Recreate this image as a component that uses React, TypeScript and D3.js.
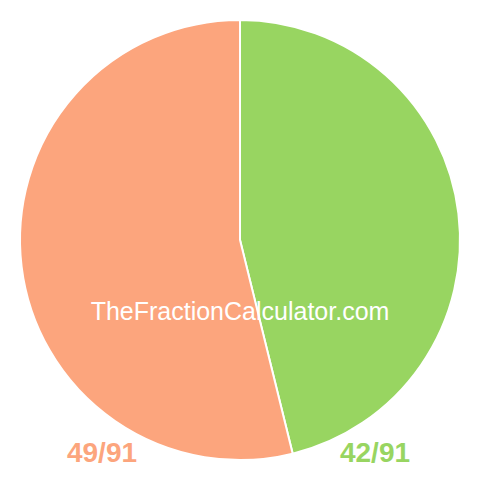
import { useEffect, useRef } from "react";
import * as d3 from "d3";

// slice values (numerators of x/91)
const labels = ["42/91", "49/91"];
const values = [42, 49];
const colors = ["#98d561", "#fca57d"];

export default function App() {
    const svgRef = useRef<SVGSVGElement>(null);

    useEffect(() => {
        if (!svgRef.current) return;
        const svg = d3.select(svgRef.current);
        svg.selectAll("*").remove();

        const width = 480, height = 480;
        const radius = 220;
        const g = svg.append("g").attr("transform", `translate(${width / 2},${height / 2})`);

        const pie = d3.pie<number>().sort(null).value(d => d);
        const arc = d3.arc<d3.PieArcDatum<number>>().innerRadius(0).outerRadius(radius);

        g.selectAll("path")
            .data(pie(values))
            .enter().append("path")
            .attr("d", arc)
            .attr("fill", (_, i) => colors[i])
            .attr("stroke", "#fff")
            .attr("stroke-width", 2);

        // fraction labels at the bottom corners
        svg.append("text")
            .attr("x", 102).attr("y", 462)
            .attr("text-anchor", "middle")
            .attr("font-family", "Liberation Sans, Arial, sans-serif")
            .attr("font-weight", "bold")
            .attr("font-size", "28px")
            .attr("fill", colors[1])
            .text(labels[1]);

        svg.append("text")
            .attr("x", 375).attr("y", 462)
            .attr("text-anchor", "middle")
            .attr("font-family", "Liberation Sans, Arial, sans-serif")
            .attr("font-weight", "bold")
            .attr("font-size", "28px")
            .attr("fill", colors[0])
            .text(labels[0]);

        // watermark
        svg.append("text")
            .attr("x", 240).attr("y", 320)
            .attr("text-anchor", "middle")
            .attr("font-family", "Liberation Sans, Arial, sans-serif")
            .attr("font-size", "25px")
            .attr("fill", "#fff")
            .text("TheFractionCalculator.com");
    }, []);

    return (
        <svg ref={svgRef} width={480} height={480}
            style={{ position: "absolute", left: 0, top: 0 }}></svg>
    );
}
